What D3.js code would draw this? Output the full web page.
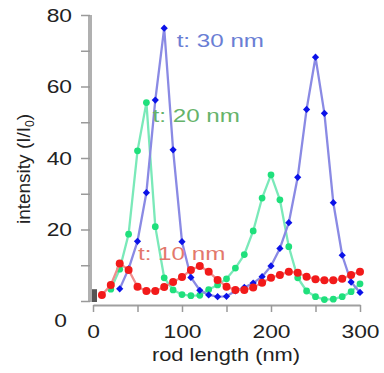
<!DOCTYPE html>
<html>
<head>
<meta charset="utf-8">
<script src="https://cdn.jsdelivr.net/npm/d3@7"></script>
<style>
  body { margin: 0; background: #fff; }
  text { font-family: "Liberation Sans", Arial, sans-serif; }
</style>
</head>
<body>
<svg id="chart" width="384" height="373"></svg>
<script>
// rod length (nm) for each curve
const xRed = [10, 20, 30, 40, 50, 60, 70, 80, 90, 100, 110, 120, 130, 140, 150,
  160, 170, 180, 190, 200, 210, 220, 230, 240, 250, 260, 270, 280, 290, 300];
const xGreen = [20, 30, 40, 50, 60, 70, 80, 90, 100, 110, 120, 130, 140, 150,
  160, 170, 180, 190, 200, 210, 220, 230, 240, 250, 260, 270, 280, 290, 300];
const xBlue = [30, 40, 50, 60, 70, 80, 90, 100, 110, 120, 130, 140, 150,
  160, 170, 180, 190, 200, 210, 220, 230, 240, 250, 260, 270, 280, 290, 300];

// intensity (I/I0)
const red10 = [1.7, 4.5, 10.5, 8.7, 4, 2.8, 2.8, 3.9, 5.3, 6.7, 8.7, 9.8, 8.2, 5.9, 4,
  3.1, 3.1, 3.8, 5.1, 6.5, 7.3, 8.2, 7.9, 6.8, 6.1, 5.8, 5.8, 6.2, 7.3, 8.2];
const green20 = [3.3, 8.9, 18.7, 42, 55.5, 20.8, 6.5, 3.1, 1.8, 1.5, 1.6, 3.2, 4.5, 6.2,
  9.2, 13, 19.6, 28.8, 35.3, 28.3, 15.2, 6.5, 2.8, 1.2, 0.4, 0.5, 1.2, 2.6, 4.8];
const blue30 = [3.4, 9, 16.7, 30.3, 56.2, 76.3, 42.3, 16.6, 6.6, 3, 1.7, 1.2, 1.3,
  2.8, 3.8, 5, 6.8, 9.8, 14.7, 21.9, 34.6, 53.6, 68.2, 52.5, 27.5, 12.8, 5.3, 2.4];

const seriesNames = ["t: 20 nm", "t: 30 nm", "t: 10 nm"];
const xTicks = [0, 100, 200, 300];
const xMinor = [50, 150, 250];
const yTicks = [0, 20, 40, 60, 80];
const yMinor = [10, 30, 50, 70];

const svg = d3.select("#chart");

const x = d3.scaleLinear().domain([0, 300]).range([93, 360]);
const y = d3.scaleLinear().domain([0, 80]).range([301, 15]);

// stretch text horizontally a bit, the source figure is wide-set
function widen(sel, k) {
  sel.each(function () {
    const w = this.getComputedTextLength();
    d3.select(this).attr("textLength", w * k).attr("lengthAdjust", "spacingAndGlyphs");
  });
}

// ---- axes
const yAxisG = svg.append("g")
  .attr("transform", "translate(90,0)")
  .call(d3.axisLeft(y).tickValues(yTicks).tickSize(9).tickPadding(9).tickSizeOuter(0));
svg.append("g")
  .attr("transform", "translate(90,0)")
  .call(d3.axisLeft(y).tickValues(yMinor).tickSize(9).tickFormat("").tickSizeOuter(0))
  .call(g => g.select(".domain").remove())
  .selectAll("line").attr("stroke", "#9a9a9a").attr("stroke-width", 1.5);

yAxisG.select(".domain").attr("stroke", "#b0b0b0").attr("stroke-width", 4)
  .attr("d", `M0,${y(80)}V${y(0) + 1}`);
yAxisG.selectAll(".tick line").attr("stroke", "#9a9a9a").attr("stroke-width", 1.5);
yAxisG.selectAll(".tick text")
  .attr("fill", "#222").attr("font-size", 19)
  .call(widen, 1.2);
// the zero label sits below the corner in the original
yAxisG.selectAll(".tick").filter(d => d === 0).select("text")
  .attr("transform", "translate(-5,19)");

const xAxisG = svg.append("g")
  .attr("transform", "translate(0,305)")
  .call(d3.axisBottom(x).tickValues(xTicks).tickSize(7).tickPadding(13).tickSizeOuter(0));
svg.append("g")
  .attr("transform", "translate(0,305)")
  .call(d3.axisBottom(x).tickValues(xMinor).tickSize(7).tickFormat("").tickSizeOuter(0))
  .call(g => g.select(".domain").remove())
  .selectAll("line").attr("stroke", "#9a9a9a").attr("stroke-width", 1.5);

xAxisG.select(".domain").attr("stroke", "#a0a0a0").attr("stroke-width", 2);
xAxisG.selectAll(".tick line").attr("stroke", "#9a9a9a").attr("stroke-width", 1.5);
xAxisG.selectAll(".tick text")
  .attr("fill", "#222").attr("font-size", 19)
  .call(widen, 1.2);

// small dark block at the corner
svg.append("rect")
  .attr("x", x(0) - 1).attr("y", y(3.3))
  .attr("width", 5).attr("height", y(0) - y(3.3) + 1)
  .attr("fill", "#555");

// axis titles
svg.append("text")
  .attr("x", 226).attr("y", 361)
  .attr("text-anchor", "middle").attr("font-size", 19).attr("fill", "#222")
  .text("rod length (nm)")
  .call(widen, 1.15);

const yt = svg.append("text")
  .attr("transform", "translate(30,169) rotate(-90)")
  .attr("text-anchor", "middle").attr("font-size", 19).attr("fill", "#222");
yt.append("tspan").text("intensity (I/I");
yt.append("tspan").attr("font-size", 12).attr("dy", 4).text("0");
yt.append("tspan").attr("dy", -4).text(")");

// ---- series
const series = [
  { name: seriesNames[0], xs: xGreen, ys: green20, line: "#7ae9b9", dot: "#1fe07c", sym: d3.symbolCircle, size: 36, rot: 0, label: [67, 50.2], text: "#66b36a" },
  { name: seriesNames[1], xs: xBlue, ys: blue30, line: "#8a8ae4", dot: "#0b12e8", sym: d3.symbolSquare, size: 26, rot: 45, label: [94, 71.1], text: "#6a7ed4" },
  { name: seriesNames[2], xs: xRed, ys: red10, line: "#f08d8d", dot: "#f21a1a", sym: d3.symbolCircle, size: 50, rot: 0, label: [50.5, 11.5], text: "#e3786c" }
];

const line = d3.line().x(d => x(d[0])).y(d => y(d[1]));

series.forEach(s => {
  const pts = s.xs.map((v, i) => [v, s.ys[i]]);
  const g = svg.append("g");
  g.append("path")
    .attr("d", line(pts))
    .attr("fill", "none")
    .attr("stroke", s.line)
    .attr("stroke-width", 2.3)
    .attr("stroke-linejoin", "round");
  g.selectAll("path.pt")
    .data(pts)
    .join("path")
    .attr("class", "pt")
    .attr("transform", d => `translate(${x(d[0])},${y(d[1])}) rotate(${s.rot})`)
    .attr("d", d3.symbol().type(s.sym).size(s.size))
    .attr("fill", s.dot);
});

series.forEach(s => {
  svg.append("text")
    .attr("x", x(s.label[0])).attr("y", y(s.label[1]))
    .attr("font-size", 18.6).attr("fill", s.text)
    .text(s.name)
    .call(widen, 1.3);
});
</script>
</body>
</html>
